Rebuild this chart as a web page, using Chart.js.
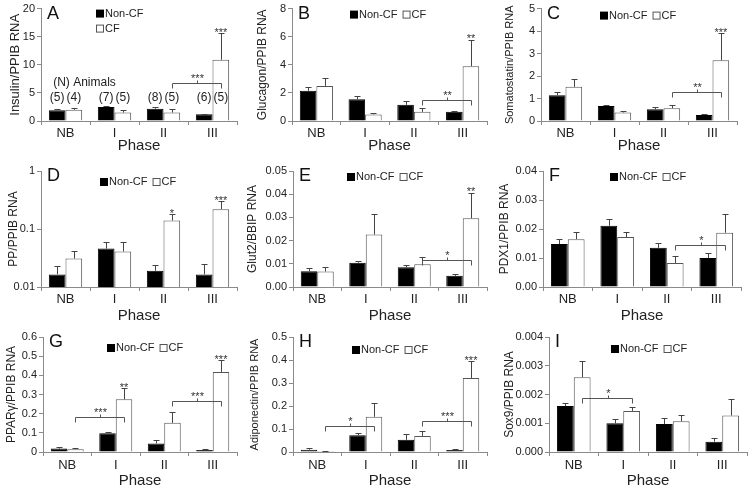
<!DOCTYPE html>
<html>
<head>
<meta charset="utf-8">
<script src="https://cdn.jsdelivr.net/npm/chart.js@4.4.0/dist/chart.umd.min.js"></script>
<style>
  body { margin: 0; background: #fff; }
  #fig { position: relative; width: 750px; height: 490px; overflow: hidden; }
  #fig canvas { position: absolute; display: block; }
</style>
</head>
<body>
<div id="fig"></div>
<script>
// categories
const phases = ['NB', 'I', 'II', 'III'];

// A - insulin
const insulinNonCF = [1.9, 2.5, 2.2, 1.2];
const insulinNonCFErr = [0.15, 0.15, 0.35, 0.1];
const insulinCF = [2.0, 1.5, 1.5, 10.9];
const insulinCFErr = [0.3, 0.4, 0.7, 4.7];
const insulinStars = ['', '', '', '***'];
const insulinTicks = ['0', '5', '10', '15', '20'];
const insulinBrackets = [[2, 3, '***']];
const animalsNonCF = ['(5)', '(7)', '(8)', '(6)'];
const animalsCF = ['(4)', '(5)', '(5)', '(5)'];

// B - glucagon
const glucagonNonCF = [2.15, 1.55, 1.15, 0.65];
const glucagonNonCFErr = [0.25, 0.2, 0.25, 0.08];
const glucagonCF = [2.5, 0.47, 0.65, 3.9];
const glucagonCFErr = [0.55, 0.1, 0.27, 1.9];
const glucagonStars = ['', '', '', '**'];
const glucagonTicks = ['0', '2', '4', '6', '8'];
const glucagonBrackets = [[2, 3, '**']];

// C - somatostatin
const somatoNonCF = [1.15, 0.67, 0.52, 0.27];
const somatoNonCFErr = [0.15, 0.05, 0.1, 0.06];
const somatoCF = [1.52, 0.38, 0.57, 2.7];
const somatoCFErr = [0.33, 0.07, 0.16, 1.2];
const somatoStars = ['', '', '', '***'];
const somatoTicks = ['0', '1', '2', '3', '4', '5'];
const somatoBrackets = [[2, 3, '**']];

// D - PP (log axis)
const ppNonCF = [0.0165, 0.046, 0.019, 0.0165];
const ppNonCFErr = [0.0065, 0.014, 0.0045, 0.008];
const ppCF = [0.031, 0.041, 0.14, 0.22];
const ppCFErr = [0.011, 0.018, 0.038, 0.08];
const ppStars = ['', '', '*', '***'];
const ppTickValues = [0.01, 0.1, 1];
const ppTicks = ['0.01', '0.1', '1'];
const ppBrackets = [];

// E - Glut2
const glutNonCF = [0.0068, 0.0105, 0.0085, 0.0048];
const glutNonCFErr = [0.0012, 0.0008, 0.0011, 0.0007];
const glutCF = [0.0067, 0.0226, 0.0098, 0.0296];
const glutCFErr = [0.002, 0.009, 0.0033, 0.011];
const glutStars = ['', '', '', '**'];
const glutTicks = ['0.00', '0.01', '0.02', '0.03', '0.04', '0.05'];
const glutBrackets = [[2, 3, '*']];

// F - PDX1
const pdxNonCF = [0.0148, 0.0211, 0.0135, 0.0100];
const pdxNonCFErr = [0.0017, 0.0022, 0.0018, 0.0018];
const pdxCF = [0.0165, 0.0172, 0.0083, 0.0187];
const pdxCFErr = [0.0025, 0.0018, 0.0025, 0.0066];
const pdxStars = ['', '', '', ''];
const pdxTicks = ['0.00', '0.01', '0.02', '0.03', '0.04'];
const pdxBrackets = [[2, 3, '*']];

// G - PPARgamma
const pparNonCF = [0.018, 0.098, 0.045, 0.01];
const pparNonCFErr = [0.007, 0.008, 0.02, 0.005];
const pparCF = [0.015, 0.275, 0.152, 0.418];
const pparCFErr = [0.004, 0.058, 0.057, 0.06];
const pparStars = ['', '**', '', '***'];
const pparTicks = ['0', '0.1', '0.2', '0.3', '0.4', '0.5', '0.6'];
const pparBrackets = [[0, 1, '***'], [2, 3, '***']];

// H - adiponectin
const adipoNonCF = [0.01, 0.073, 0.053, 0.009];
const adipoNonCFErr = [0.008, 0.01, 0.027, 0.005];
const adipoCF = [0.004, 0.153, 0.07, 0.322];
const adipoCFErr = [0.002, 0.058, 0.023, 0.073];
const adipoStars = ['', '', '', '***'];
const adipoTicks = ['0', '0.1', '0.2', '0.3', '0.4', '0.5'];
const adipoBrackets = [[0, 1, '*'], [2, 3, '***']];

// I - Sox9
const soxNonCF = [0.0016, 0.001, 0.00097, 0.00036];
const soxNonCFErr = [0.0001, 0.00014, 0.0002, 0.00012];
const soxCF = [0.0026, 0.00143, 0.00107, 0.00127];
const soxCFErr = [0.00055, 0.00015, 0.0002, 0.00058];
const soxStars = ['', '', '', ''];
const soxTicks = ['0.000', '0.001', '0.002', '0.003', '0.004'];
const soxBrackets = [[0, 1, '*']];

// row geometry (canvas top/height, plot top/bottom inside canvas)
const rows = [
    { top: 0,   h: 160, T: 8,  B: 121, tickPad: 1, titlePad: 5 },
    { top: 160, h: 165, T: 11, B: 127, tickPad: 1, titlePad: 0 },
    { top: 325, h: 165, T: 12, B: 127, tickPad: 2, titlePad: 0 }
];

// extra room left of each panel so a y title can sit near the column edge
const BLEED = 10;

const panels = [
    { letter: 'A', col: 0, row: 0, L: 41, R: 237, title: 'Insulin/PPIB RNA', titleSize: 13, titleX: 15,
      nonCF: insulinNonCF, nonErr: insulinNonCFErr, cf: insulinCF, cfErr: insulinCFErr,
      stars: insulinStars, ticks: insulinTicks, max: 20, step: 5,
      brackets: insulinBrackets, bracketAt: [6.8], legX: 55, legY: 5, legRows: 2,
      counts: { header: '(N) Animals', headerAt: 6.9, at: 4.1 } },
    { letter: 'B', col: 1, row: 0, L: 42, R: 237, title: 'Glucagon/PPIB RNA', titleSize: 12, titleX: 13,
      nonCF: glucagonNonCF, nonErr: glucagonNonCFErr, cf: glucagonCF, cfErr: glucagonCFErr,
      stars: glucagonStars, ticks: glucagonTicks, max: 8, step: 2,
      brackets: glucagonBrackets, bracketAt: [1.5], legX: 58, legY: 6, legRows: 1 },
    { letter: 'C', col: 2, row: 0, L: 41, R: 237, title: 'Somatostatin/PPIB RNA', titleSize: 11, titleX: 10,
      nonCF: somatoNonCF, nonErr: somatoNonCFErr, cf: somatoCF, cfErr: somatoCFErr,
      stars: somatoStars, ticks: somatoTicks, max: 5, step: 1,
      brackets: somatoBrackets, bracketAt: [1.27], legX: 59, legY: 7, legRows: 1 },
    { letter: 'D', col: 0, row: 1, L: 41, R: 237, title: 'PP/PPIB RNA', titleSize: 12, titleX: 14,
      nonCF: ppNonCF, nonErr: ppNonCFErr, cf: ppCF, cfErr: ppCFErr,
      stars: ppStars, ticks: ppTicks, log: true, tickValues: ppTickValues, min: 0.01, max: 1,
      brackets: ppBrackets, bracketAt: [], legX: 59, legY: 11, legRows: 1 },
    { letter: 'E', col: 1, row: 1, L: 43, R: 237, title: 'Glut2/BBIP RNA', titleSize: 12, titleX: 3,
      nonCF: glutNonCF, nonErr: glutNonCFErr, cf: glutCF, cfErr: glutCFErr,
      stars: glutStars, ticks: glutTicks, max: 0.05, step: 0.01,
      brackets: glutBrackets, bracketAt: [0.0115], legX: 54, legY: 6, legRows: 1 },
    { letter: 'F', col: 2, row: 1, L: 43, R: 241, title: 'PDX1/PPIB RNA', titleSize: 12, titleX: 5,
      nonCF: pdxNonCF, nonErr: pdxNonCFErr, cf: pdxCF, cfErr: pdxCFErr,
      stars: pdxStars, ticks: pdxTicks, max: 0.04, step: 0.01,
      brackets: pdxBrackets, bracketAt: [0.0145], legX: 67, legY: 6, legRows: 1 },
    { letter: 'G', col: 0, row: 2, L: 43, R: 237, title: 'PPARγ/PPIB RNA', titleSize: 12, titleX: 12,
      nonCF: pparNonCF, nonErr: pparNonCFErr, cf: pparCF, cfErr: pparCFErr,
      stars: pparStars, ticks: pparTicks, max: 0.6, step: 0.1,
      brackets: pparBrackets, bracketAt: [0.185, 0.265], legX: 64, legY: 11, legRows: 1 },
    { letter: 'H', col: 1, row: 2, L: 43, R: 237, title: 'Adiponectin/PPIB RNA', titleSize: 11, titleX: 5,
      nonCF: adipoNonCF, nonErr: adipoNonCFErr, cf: adipoCF, cfErr: adipoCFErr,
      stars: adipoStars, ticks: adipoTicks, max: 0.5, step: 0.1,
      brackets: adipoBrackets, bracketAt: [0.115, 0.135], legX: 59, legY: 13, legRows: 1 },
    { letter: 'I', col: 2, row: 2, L: 49, R: 247, title: 'Sox9/PPIB RNA', titleSize: 12, titleX: 10,
      nonCF: soxNonCF, nonErr: soxNonCFErr, cf: soxCF, cfErr: soxCFErr,
      stars: soxStars, ticks: soxTicks, max: 0.004, step: 0.001,
      brackets: soxBrackets, bracketAt: [0.00188], legX: 62, legY: 12, legRows: 1 }
];

Chart.defaults.font.family = '"Liberation Sans", Arial, sans-serif';
Chart.defaults.color = '#222';
Chart.defaults.animation = false;

const AXIS = '#8a8a8a';
const INK = '#444';
const FONT = '"Liberation Sans", Arial, sans-serif';

/**
 * Error bars, significance stars, brackets, legend and panel letter
 */
function panelMarks(p) {
    return {
        id: 'marks' + p.letter,
        afterDatasetsDraw(chart) {
            const ctx = chart.ctx;
            const y = chart.scales.y;
            const area = chart.chartArea;
            const nonMeta = chart.getDatasetMeta(0);
            const cfMeta = chart.getDatasetMeta(1);
            ctx.save();
            ctx.lineWidth = 1;
            ctx.strokeStyle = INK;

            // upper error bars
            const sets = [[nonMeta, p.nonCF, p.nonErr], [cfMeta, p.cf, p.cfErr]];
            sets.forEach(([meta, vals, errs]) => {
                meta.data.forEach((bar, i) => {
                    const x = Math.round(bar.x) + 0.5;
                    const y0 = y.getPixelForValue(vals[i]);
                    const y1 = Math.round(y.getPixelForValue(vals[i] + errs[i])) + 0.5;
                    ctx.beginPath();
                    ctx.moveTo(x, y0);
                    ctx.lineTo(x, y1);
                    ctx.moveTo(x - 3, y1);
                    ctx.lineTo(x + 3, y1);
                    ctx.stroke();
                });
            });

            // stars above CF bars
            ctx.fillStyle = '#333';
            ctx.font = '11px ' + FONT;
            ctx.textAlign = 'center';
            ctx.textBaseline = 'bottom';
            cfMeta.data.forEach((bar, i) => {
                if (!p.stars[i]) return;
                const top = y.getPixelForValue(p.cf[i] + p.cfErr[i]);
                ctx.fillText(p.stars[i], bar.x, top + 5);
            });

            // brackets between CF bars
            p.brackets.forEach((b, k) => {
                const x0 = Math.round(cfMeta.data[b[0]].x) + 0.5;
                const x1 = Math.round(cfMeta.data[b[1]].x) + 0.5;
                const yy = Math.round(y.getPixelForValue(p.bracketAt[k])) + 0.5;
                const xm = Math.round((x0 + x1) / 2) + 0.5;
                ctx.strokeStyle = '#555';
                ctx.beginPath();
                ctx.moveTo(x0, yy + 5);
                ctx.lineTo(x0, yy);
                ctx.lineTo(x1, yy);
                ctx.lineTo(x1, yy + 5);
                ctx.moveTo(xm, yy);
                ctx.lineTo(xm, yy - 3);
                ctx.stroke();
                ctx.fillText(b[2], xm, yy + 1);
            });

            // animal counts (panel A)
            if (p.counts) {
                ctx.fillStyle = '#222';
                ctx.font = '12px ' + FONT;
                ctx.textBaseline = 'middle';
                const cy = y.getPixelForValue(p.counts.at);
                nonMeta.data.forEach((bar, i) => ctx.fillText(animalsNonCF[i], bar.x, cy));
                cfMeta.data.forEach((bar, i) => ctx.fillText(animalsCF[i], bar.x, cy));
                ctx.textAlign = 'left';
                const first = nonMeta.data[0];
                ctx.fillText(p.counts.header, first.x - 4, y.getPixelForValue(p.counts.headerAt));
            }

            // legend
            ctx.font = '11px ' + FONT;
            ctx.textAlign = 'left';
            ctx.textBaseline = 'middle';
            const lx = area.left + p.legX;
            const ly = area.top + p.legY;
            ctx.fillStyle = '#000';
            ctx.fillRect(lx, ly - 4, 8, 8);
            ctx.fillStyle = '#222';
            ctx.fillText('Non-CF', lx + 9, ly);
            let cx = lx + 9 + ctx.measureText('Non-CF ').width + 2;
            let cyy = ly;
            if (p.legRows === 2) {
                cx = lx;
                cyy = ly + 15;
            }
            ctx.strokeStyle = '#555';
            ctx.strokeRect(cx + 0.5, cyy - 3.5, 7, 7);
            ctx.fillText('CF', cx + 9, cyy);

            // panel letter
            ctx.font = '18px ' + FONT;
            ctx.fillStyle = '#111';
            ctx.fillText(p.letter, area.left + 6, area.top + 5);
            ctx.restore();
        }
    };
}

function buildPanel(p) {
    const r = rows[p.row];
    const canvas = document.createElement('canvas');
    canvas.width = 250 + BLEED;
    canvas.height = r.h;
    canvas.style.left = (p.col * 250 - BLEED) + 'px';
    canvas.style.top = r.top + 'px';
    document.getElementById('fig').appendChild(canvas);

    const titleLine = p.titleSize * 1.2;
    const yScale = {
        type: p.log ? 'logarithmic' : 'linear',
        min: p.log ? p.min : 0,
        max: p.max,
        border: { display: true, color: AXIS },
        grid: { drawOnChartArea: false, drawTicks: true, tickLength: 4, color: AXIS },
        ticks: {
            font: { size: 11 },
            color: '#222',
            padding: 2,
            callback: (v, i) => p.ticks[i]
        },
        title: {
            display: true,
            text: p.title,
            color: '#222',
            font: { size: p.titleSize },
            padding: { top: p.titleX + BLEED - titleLine / 2, bottom: 0 }
        },
        afterFit(s) { s.width = p.L + BLEED; }
    };
    if (p.log) {
        yScale.afterBuildTicks = s => { s.ticks = p.tickValues.map(v => ({ value: v })); };
    } else {
        yScale.ticks.stepSize = p.step;
    }

    new Chart(canvas.getContext('2d'), {
        type: 'bar',
        data: {
            labels: phases,
            datasets: [
                { label: 'Non-CF', data: p.nonCF, backgroundColor: '#000', borderColor: '#000',
                  borderWidth: 1, categoryPercentage: 0.68, barPercentage: 1 },
                { label: 'CF', data: p.cf, backgroundColor: '#fff', borderColor: '#555',
                  borderWidth: 1, categoryPercentage: 0.68, barPercentage: 1 }
            ]
        },
        options: {
            responsive: false,
            devicePixelRatio: 1,
            animation: false,
            layout: { padding: { left: 0, right: 250 - p.R, top: r.T, bottom: 0 } },
            plugins: { legend: { display: false }, tooltip: { enabled: false } },
            scales: {
                x: {
                    border: { display: true, color: AXIS },
                    grid: { drawOnChartArea: false, drawTicks: true, tickLength: 4, color: AXIS },
                    ticks: { font: { size: 13 }, color: '#222', padding: r.tickPad },
                    title: {
                        display: true,
                        text: 'Phase',
                        color: '#222',
                        font: { size: 15 },
                        padding: { top: 0, bottom: r.titlePad }
                    },
                    afterFit(s) { s.height = r.h - r.B; }
                },
                y: yScale
            }
        },
        plugins: [panelMarks(p)]
    });
}

panels.forEach(buildPanel);
</script>
</body>
</html>
